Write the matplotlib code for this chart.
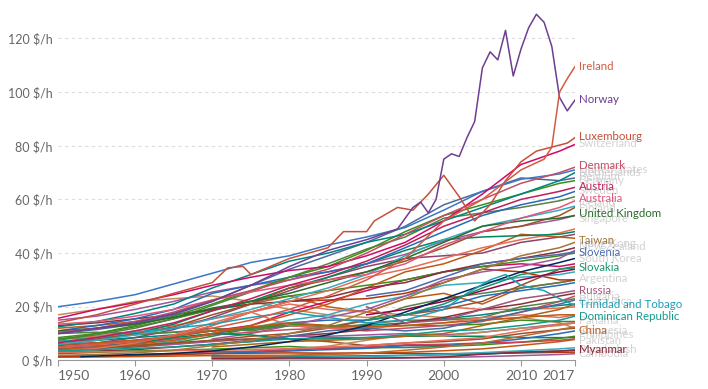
import matplotlib
matplotlib.use("Agg")
import matplotlib.pyplot as plt

plt.rcParams['font.family'] = ['Lato', 'DejaVu Sans']

# ------------------------------------------------------------------
# Data: output per hour worked ($/h)
# ------------------------------------------------------------------
yrs50 = [1950, 1955, 1960, 1965, 1970, 1975, 1980, 1985, 1990, 1995, 2000, 2005, 2010, 2015, 2017]
yrs70 = [1970, 1975, 1980, 1985, 1990, 1995, 2000, 2005, 2010, 2015, 2017]
yrs90 = [1990, 1995, 2000, 2005, 2010, 2015, 2017]

norway_yrs = [1950, 1955, 1960, 1965, 1970, 1975, 1980, 1985, 1990, 1994, 1996, 1997, 1998, 1999,
              2000, 2001, 2002, 2003, 2004, 2005, 2006, 2007, 2008, 2009, 2010, 2011, 2012, 2013,
              2014, 2015, 2016, 2017]
norway = [10, 12, 14, 17.5, 22, 28, 35, 41, 45, 49, 57, 59, 55, 60,
          75, 77, 76, 83, 89, 109, 115, 112, 123, 106, 116, 124, 129, 126,
          117, 98, 93, 97]

ireland_yrs = [1950, 1955, 1960, 1965, 1970, 1975, 1980, 1985, 1990, 1995, 2000, 2005, 2010,
               2013, 2014, 2015, 2016, 2017]
ireland = [5, 6, 7, 9, 12, 15, 19, 24, 30, 38, 52, 60, 71, 75, 79.5, 100, 105, 109.5]

luxembourg_yrs = [1950, 1955, 1960, 1965, 1970, 1972, 1974, 1975, 1980, 1985, 1987, 1990, 1991,
                  1994, 1996, 1998, 2000, 2002, 2004, 2006, 2008, 2010, 2012, 2014, 2016, 2017]
luxembourg = [14, 17, 21, 25, 29, 34.5, 35, 32, 38, 42, 48, 48, 52,
              57, 56, 62, 69, 61, 52, 58, 67, 74, 78, 79.5, 81, 83]

south_korea_yrs = [1953, 1960, 1965, 1970, 1975, 1980, 1985, 1990, 1995, 2000, 2005, 2010, 2015, 2017]
south_korea = [1.4, 2.2, 2.6, 3.5, 5, 7, 9.5, 13, 18, 23, 28, 33, 36.5, 38]

trinidad_yrs = [1950, 1955, 1960, 1965, 1970, 1975, 1980, 1985, 1990, 1995, 2000, 2003, 2006,
                2008, 2010, 2013, 2015, 2017]
trinidad = [7, 8.5, 10.5, 12, 13.5, 16, 18, 16, 14, 15, 19, 25, 30, 32, 28, 26, 23, 20.5]

# upper group
united_states = [20, 22, 24.5, 28.5, 32.5, 36.5, 39, 43, 46, 49.5, 56, 63, 67.5, 69.5, 71]
switzerland = [15.7, 19, 21.5, 24.5, 28, 31, 33.5, 35, 39, 44, 52, 62, 73, 78, 80.5]
denmark = [10.5, 12, 14.5, 18, 22.5, 26, 30, 34, 40, 47, 54, 60, 66, 70, 72]
netherlands = [12.5, 14.5, 17.5, 21, 27, 32, 37, 40, 44, 47, 52, 57, 62, 67, 70]
belgium = [10, 11.5, 13.5, 17, 22, 28, 34, 39, 44, 50, 58, 63, 68, 67, 68]
germany = [7.5, 10, 13, 16.5, 21, 26, 31, 35, 41, 48, 54, 58, 62, 66, 67]
austria = [6.5, 8.5, 11, 14, 18.5, 23, 28, 32, 37, 43, 50, 55, 60, 63, 64.5]
sweden = [11, 13, 15.5, 19, 25, 28, 31, 33, 36, 42, 48, 54, 58, 61, 63]
france = [8, 9.5, 12, 15.5, 20.5, 25.5, 31, 36, 41.5, 46, 53, 55, 57, 59.5, 61]
australia = [13.5, 14.5, 16.5, 19, 22.5, 25.5, 28, 30, 32, 36, 43, 48, 53, 57, 59.5]
finland = [6, 7.5, 9.5, 12, 15.5, 19, 23, 27, 32, 39, 45, 50, 53, 56, 57.5]
iceland = [7, 8, 10, 12.5, 17, 21, 27, 30, 33, 37, 42, 48, 50, 54, 57]
canada = [15, 16.5, 19, 22, 25.5, 28, 30, 33, 36, 39.5, 44.5, 48, 50, 52.5, 54]
united_kingdom = [11, 12, 13.5, 16, 19.5, 22, 25, 29, 33, 38, 44, 50, 52, 53, 54]
italy = [6, 7.5, 10, 13.5, 18.5, 22, 27, 31, 36, 41, 45, 46, 46.5, 47, 48]
japan = [3.5, 4.5, 6.5, 9.5, 14, 18, 22, 26, 31, 34, 38, 42, 45, 47.5, 49]

# middle group
taiwan = [1.8, 2.2, 2.8, 3.8, 5.5, 7.5, 10, 13, 18, 23, 29, 34, 39, 42, 44]
hong_kong = [4, 5, 6, 7.5, 10, 13, 17, 21, 27, 33, 36, 41, 47, 46, 45.5]
new_zealand = [13, 14, 15.5, 17, 19, 21, 22, 23.5, 27, 29, 33, 36, 38, 40.5, 42]
spain = [5.5, 6.5, 8.5, 11.5, 16, 21, 26, 31, 35, 38, 39, 40, 44, 46, 47]
israel = [8.5, 10, 12.5, 15.5, 19, 22, 24, 26, 28, 30, 33, 35, 37, 39, 40]
greece = [3.5, 4.5, 6, 8.5, 13, 18, 22, 22.5, 23, 25, 29, 34, 33, 30, 30]
portugal = [4, 4.5, 5.5, 7, 10, 12, 15, 17, 21, 24, 28, 29, 31, 32, 33]
argentina = [12, 13, 14.5, 16, 19, 21, 24, 20, 18, 23, 25, 21, 27, 29, 30]
chile = [8, 8.5, 9.5, 10.5, 12, 11, 13, 12.5, 15, 20, 23, 25, 27, 29, 30]
mexico = [8, 9, 11, 13, 15.5, 18, 21, 19, 18, 17, 20, 19, 19, 19.5, 20]
turkey = [4, 4.5, 5, 6, 7.5, 9, 10, 12, 15, 17, 19, 22, 28, 34, 35]
cyprus = [6, 6.5, 7.5, 9, 11, 13, 18, 22, 26, 30, 33, 35, 36, 35, 36]
venezuela = [17, 19, 22, 23, 24, 22, 19, 17, 16, 17, 16, 15, 16, 14, 12]
hungary = [10, 12, 14, 15, 15, 17, 20, 24, 26, 28, 29]
malta = [8, 10, 13, 16, 19, 24, 30, 33, 35, 38, 41]
slovenia = [24, 26, 31, 36, 38, 39.5, 40.5]
slovakia = [15, 17, 21, 27, 32, 34, 34.5]
czechia = [17, 19, 22, 26, 30, 33, 34]
russia = [20, 14, 15, 19, 23, 25, 26]

# lower group
costa_rica = [7, 7.5, 8.5, 9.5, 11, 12, 13, 12, 13, 14, 15.5, 17, 19, 20.5, 21]
dominican_republic = [3.5, 4, 4.5, 5, 6, 7, 8, 8.5, 8.5, 9.5, 11, 11.5, 13, 15, 16.5]
brazil = [4, 5, 5.5, 6.5, 9, 12, 13.5, 13, 12.5, 13, 13, 13.5, 15, 14.5, 14.5]
panama = [5, 5.5, 6.5, 8, 9.5, 10.5, 11.5, 12, 11, 12, 13, 14.5, 18, 22, 24]
uruguay = [10, 10.5, 10, 10.5, 11, 11.5, 13, 12, 13.5, 15, 15, 16, 20, 22, 23]
malaysia = [3, 3.5, 4, 5, 6, 7.5, 9, 10, 11.5, 14, 16, 19, 21, 24, 25]
iran = [5, 6, 7, 9, 13, 18, 13, 12, 12, 13, 14, 16, 17, 16, 17]
south_africa = [6, 6.5, 7.5, 9, 11, 12.5, 14, 13, 12.5, 13, 14, 15, 16, 17, 17]
colombia = [4.5, 5, 5.5, 6, 7, 8, 9, 9, 9.5, 10, 9.5, 10.5, 12, 13.5, 14]
peru = [4, 4.5, 5.5, 6.5, 7.5, 8, 8, 7, 5.5, 6.5, 7, 8, 10, 11.5, 12]
jamaica = [4, 5, 6.5, 8.5, 10, 9.5, 8, 8, 8.5, 9, 9, 9, 8.5, 8.5, 8.5]
thailand = [1.2, 1.4, 1.7, 2.1, 2.8, 3.3, 4.2, 5.3, 7.5, 9.5, 9, 10.5, 12, 13, 14]
philippines = [2.5, 3, 3.5, 3.8, 4.2, 4.7, 5.2, 4.5, 4.7, 4.8, 5.2, 5.8, 6.8, 8.2, 9]
pakistan = [1.8, 1.9, 2.1, 2.6, 3.2, 3.4, 3.8, 4.5, 5, 5.8, 6, 6.5, 6.8, 7.5, 8]
india = [1.2, 1.3, 1.4, 1.6, 1.8, 1.9, 1.9, 2.3, 2.6, 3, 3.6, 4.3, 5.6, 7, 7.8]
sri_lanka = [3, 3.2, 3.3, 3.6, 3.8, 4, 4.4, 5, 5.6, 6.5, 7.5, 8.5, 11, 13.5, 14]
kenya = [1.5, 1.7, 1.9, 2.2, 2.5, 2.7, 2.8, 2.7, 2.8, 2.6, 2.5, 2.6, 2.8, 3, 3.1]
bulgaria = [6, 7, 9, 11, 12, 11, 12, 15, 18, 21, 22.5]
romania = [5, 6, 7, 7.5, 8, 9, 10, 13, 16, 19, 21]
china = [1.2, 1.4, 1.8, 2.3, 2.7, 3.8, 5, 6.5, 9, 11.5, 12.5]
indonesia = [2.5, 3, 3.5, 4, 4.5, 5.5, 5.5, 6.5, 8, 10, 11]
myanmar = [0.8, 0.8, 0.9, 0.9, 0.8, 1, 1.3, 2.3, 3.1, 3.5, 3.8]
bangladesh = [1.5, 1.3, 1.5, 1.6, 1.7, 1.9, 2.1, 2.4, 2.9, 3.5, 3.9]
cambodia = [0.5, 0.5, 0.6, 0.6, 0.8, 0.9, 1.1, 1.4, 1.8, 2.2, 2.5]
vietnam = [1, 1, 1.1, 1.2, 1.4, 1.8, 2.3, 2.9, 3.6, 4.3, 4.7]

# highlighted labels and faded background labels
labels_on = ["Ireland", "Norway", "Luxembourg", "Denmark", "Austria", "Australia",
             "United Kingdom", "Taiwan", "Slovenia", "Slovakia", "Russia",
             "Trinidad and Tobago", "Dominican Republic", "China", "Myanmar"]
labels_off = ["Switzerland", "United States", "Netherlands", "Belgium", "Germany", "Sweden",
              "Iceland", "Finland", "Singapore", "Hong Kong", "New Zealand", "South Korea",
              "Argentina", "Bulgaria", "Costa Rica", "Panama", "Indonesia", "Philippines",
              "Pakistan", "Bangladesh", "Cambodia"]

# ------------------------------------------------------------------
# Styling / layout
# ------------------------------------------------------------------
series = [
    (yrs50, venezuela, "#BC8E5A"), (yrs50, argentina, "#C05917"), (yrs50, chile, "#578145"),
    (yrs50, mexico, "#E56E5A"), (yrs50, turkey, "#9A5129"), (yrs50, cyprus, "#CF0A66"),
    (yrs50, greece, "#B13507"), (yrs50, portugal, "#38AABA"), (yrs50, israel, "#3B8E1D"),
    (yrs50, spain, "#8C4569"), (yrs70, hungary, "#286BBB"), (yrs70, malta, "#A2559C"),
    (yrs90, czechia, "#970046"),
    (yrs50, costa_rica, "#00847E"), (yrs50, brazil, "#3B8E1D"), (yrs50, panama, "#C15065"),
    (yrs50, uruguay, "#578145"), (yrs50, malaysia, "#883039"), (yrs50, iran, "#E56E5A"),
    (yrs50, south_africa, "#C05917"), (yrs50, colombia, "#A2559C"), (yrs50, peru, "#9A5129"),
    (yrs50, jamaica, "#00875E"), (yrs50, thailand, "#BC8E5A"), (yrs50, philippines, "#3B8E1D"),
    (yrs50, pakistan, "#D73C50"), (yrs50, india, "#C05917"), (yrs50, sri_lanka, "#E56E5A"),
    (yrs50, kenya, "#B13507"), (yrs70, bulgaria, "#4C6A9C"), (yrs70, romania, "#B16214"),
    (yrs70, indonesia, "#286BBB"), (yrs70, bangladesh, "#00847E"), (yrs70, cambodia, "#A2559C"),
    (yrs70, vietnam, "#38AABA"),
    (yrs50, hong_kong, "#C05917"), (yrs50, new_zealand, "#883039"),
    (south_korea_yrs, south_korea, "#00295B"),
    (yrs50, japan, "#E56E5A"), (yrs50, italy, "#00875E"), (yrs50, canada, "#A2559C"),
    (yrs50, iceland, "#9A5129"), (yrs50, finland, "#38AABA"), (yrs50, france, "#578145"),
    (yrs50, sweden, "#286BBB"), (yrs50, germany, "#3B8E1D"), (yrs50, belgium, "#4C6A9C"),
    (yrs50, netherlands, "#00847E"), (yrs50, united_states, "#3C77C3"),
    (yrs50, switzerland, "#CF0A66"),
    # highlighted
    (yrs70, myanmar, "#8C2A3C"), (yrs70, china, "#C1672D"),
    (yrs50, dominican_republic, "#139A8A"), (trinidad_yrs, trinidad, "#1E9FB4"),
    (yrs90, russia, "#A2557A"), (yrs90, slovakia, "#18956E"), (yrs90, slovenia, "#4C6BAE"),
    (yrs50, taiwan, "#A2773A"), (yrs50, united_kingdom, "#2B6B2B"),
    (yrs50, australia, "#E0567D"), (yrs50, austria, "#BE1E5C"), (yrs50, denmark, "#C15065"),
    (luxembourg_yrs, luxembourg, "#C4513B"), (norway_yrs, norway, "#6D3E91"),
    (ireland_yrs, ireland, "#D65A43"),
]

label_on_y = [109.7, 97.3, 83.3, 72.5, 65, 60.2, 54.6, 44.8, 40.3, 34.7, 26.2, 21, 16.5, 11.3, 4.2]
label_on_c = ["#D65A43", "#6D3E91", "#C4513B", "#C15065", "#BE1E5C", "#E0567D", "#2B6B2B",
              "#A2773A", "#4C6BAE", "#18956E", "#A2557A", "#1E9FB4", "#139A8A", "#C1672D", "#8C2A3C"]
label_off_y = [80.7, 71.3, 70.2, 68.7, 67.2, 63.5, 58.7, 56.8, 52.8, 43.7, 42.5, 38.1,
               30.7, 24, 22, 15, 11.3, 9.5, 7.6, 3.9, 2.4]

fig = plt.figure(figsize=(7.08, 3.89), dpi=100)
ax = fig.add_axes([0.0819, 0.0735, 0.7302, 0.8967])

for yrs, vals, col in series:
    ax.plot(yrs, vals, color=col, lw=1.1, solid_joinstyle='round')

for name, yv in zip(labels_off, label_off_y):
    ax.text(2017.5, yv, name, color="#c4c4c4", alpha=0.75, fontsize=8.3,
            va='center', ha='left', clip_on=False, zorder=1)
for name, yv, col in zip(labels_on, label_on_y, label_on_c):
    ax.text(2017.5, yv, name, color=col, fontsize=8.3,
            va='center', ha='left', clip_on=False, zorder=5)

ax.set_xlim(1950, 2017)
ax.set_ylim(0, 130)
ax.set_xticks([1950, 1960, 1970, 1980, 1990, 2000, 2010, 2017])
ax.set_yticks([0, 20, 40, 60, 80, 100, 120])
ax.set_yticklabels([f"{v} $/h" for v in [0, 20, 40, 60, 80, 100, 120]])
for v in [20, 40, 60, 80, 100, 120]:
    ax.axhline(v, color="#dddddd", lw=0.8, ls=(0, (3, 3)), zorder=0)

for s in ["top", "right", "left"]:
    ax.spines[s].set_visible(False)
ax.spines["bottom"].set_color("#999999")
ax.spines["bottom"].set_linewidth(0.8)
ax.tick_params(axis='x', colors="#999999", length=4, width=0.8, labelsize=10,
               labelcolor="#666666", pad=3)
ax.tick_params(axis='y', length=0, labelsize=9, labelcolor="#666666", pad=4)
xt = ax.get_xticklabels()
xt[0].set_ha('left')
xt[-1].set_ha('right')

fig.savefig("out.png", dpi=100)
